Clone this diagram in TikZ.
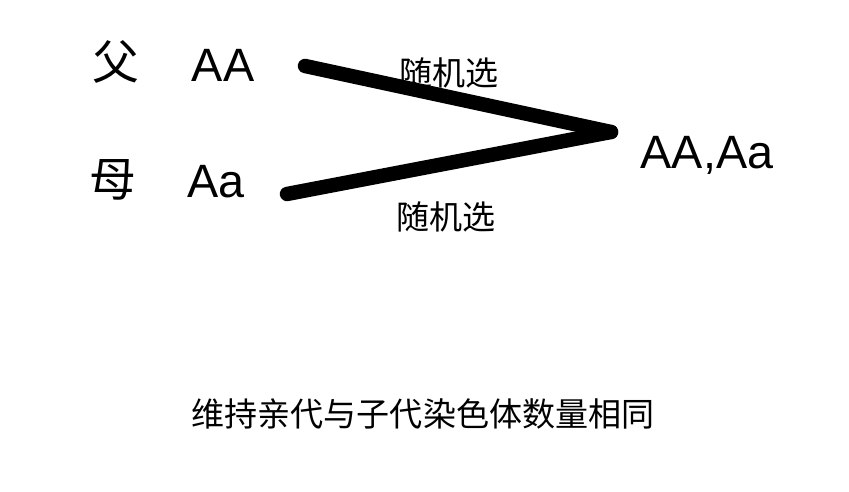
\documentclass[tikz,border=0pt]{standalone}
\usepackage{fontspec}
\setmainfont{Liberation Sans}
\newfontfamily\cjk{Noto Sans CJK SC}
\usetikzlibrary{positioning}

\begin{document}
\begin{tikzpicture}[
    x=0.01cm, y=-0.01cm,
    big/.style={inner sep=0pt, font=\fontsize{13.3}{16}\selectfont},
    hanzi/.style={inner sep=0pt, font=\cjk\fontsize{13.3}{16}\selectfont},
    note/.style={inner sep=0pt, font=\cjk\fontsize{9.4}{12}\selectfont},
    link/.style={draw, line width=4.1pt, line cap=round}
]
\useasboundingbox (0,0) rectangle (849,492);

\node [hanzi] (fu) at (116,62) {父};
\node [big, anchor=base] (fa) at (223,82) {AA};
\node [hanzi] (mu) at (113,180) {母};
\node [big, anchor=base] (ma) at (216,198) {Aa};
\node [big, anchor=base] (child) at (707,169) {AA,Aa};

\coordinate (fstart) at (305,66);
\coordinate (mstart) at (287,194);
\coordinate (tip) at (611,132);

\draw [link] (fstart) -- (tip);
\draw [link] (mstart) -- (tip);

\node [note] (pick1) at (449,73) {随机选};
\node [note] (pick2) at (446,217) {随机选};

\node [note] (same) at (423,414) {维持亲代与子代染色体数量相同};

\end{tikzpicture}
\end{document}
